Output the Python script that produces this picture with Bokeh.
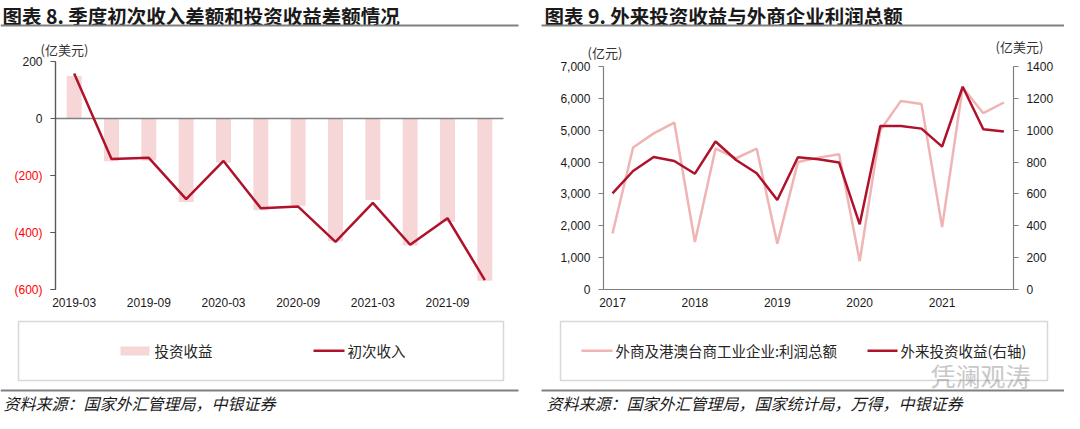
from bokeh.plotting import figure
from bokeh.models import (Range1d, LinearAxis, FixedTicker, NumeralTickFormatter,
                          Label, BoxAnnotation)
from bokeh.layouts import row
from bokeh.embed import file_html
from bokeh.resources import INLINE

# ---------------- data: left chart (亿美元) ----------------
quarters = ["2019-03", "2019-06", "2019-09", "2019-12", "2020-03", "2020-06",
            "2020-09", "2020-12", "2021-03", "2021-06", "2021-09", "2021-12"]
invest_income_diff = [149, -150, -147, -293, -155, -322, -306, -431, -286, -446, -363, -569]
primary_income_diff = [158, -142, -138, -283, -149, -315, -309, -433, -296, -443, -350, -567]
left_ticks = [200, 0, -200, -400, -600]

# ---------------- data: right chart ----------------
periods = ["2017Q1", "2017Q2", "2017Q3", "2017Q4", "2018Q1", "2018Q2", "2018Q3", "2018Q4",
           "2019Q1", "2019Q2", "2019Q3", "2019Q4", "2020Q1", "2020Q2", "2020Q3", "2020Q4",
           "2021Q1", "2021Q2", "2021Q3", "2021Q4"]
profit_total = [1760, 4460, 4900, 5240, 1490, 4420, 4120, 4420, 1440, 4000,
                4140, 4245, 890, 5000, 5920, 5820, 1960, 6340, 5535, 5870]   # 亿元
fdi_income = [604, 744, 832, 807, 727, 929, 813, 730, 562, 830,
              818, 797, 409, 1027, 1027, 1010, 897, 1273, 1006, 992]        # 亿美元
year_labels = ["2017", "2018", "2019", "2020", "2021"]
right_left_ticks = [0, 1000, 2000, 3000, 4000, 5000, 6000, 7000]
right_right_ticks = [0, 200, 400, 600, 800, 1000, 1200, 1400]

RED = "#B0122B"
PINK_BAR = "#F6D6D6"
PINK_LINE = "#F0B4B4"
GRAY = "#808080"
AXIS = "#7f7f7f"
CJK = "Noto Sans CJK SC"
NUM = "Liberation Sans"
W1, W2, H = 537, 527, 413


def span_range(v0, px0, v1, px1, total):
    """Range whose values v0/v1 land at canvas pixels px0/px1, frame = whole canvas."""
    s = (px1 - px0) / (v1 - v0)
    a = v0 - px0 / s
    b = v0 + (total - px0) / s
    return Range1d(min(a, b), max(a, b))


def canvas_label(p, x, y, text, size, color="#1a1a1a", style="normal", align="left",
                 font=CJK, baseline="middle"):
    p.add_layout(Label(x=x, y=y, x_units="canvas", y_units="canvas", text=text,
                       text_font=font, text_font_size=size, text_color=color,
                       text_font_style=style, text_align=align, text_baseline=baseline))


def canvas_box(p, l, r, t, b, fill=None, line=None, lw=1.0):
    p.add_layout(BoxAnnotation(left=l, right=r, top=t, bottom=b,
                               left_units="canvas", right_units="canvas",
                               top_units="canvas", bottom_units="canvas",
                               fill_color=fill, fill_alpha=1.0 if fill else 0,
                               line_color=line, line_width=lw, level="overlay"))


def base_style(p):
    p.outline_line_color = None
    p.xgrid.grid_line_color = None
    p.ygrid.grid_line_color = None
    p.background_fill_color = "white"
    p.border_fill_color = "white"
    p.min_border = 0


def style_axis(ax, line=AXIS, tick=True):
    ax.axis_line_color = line
    ax.axis_line_width = 1.2
    ax.major_tick_line_color = line if tick else None
    ax.major_tick_out = 5 if tick else 0
    ax.major_tick_in = 0
    ax.minor_tick_line_color = None
    ax.major_label_standoff = 8
    ax.major_label_text_font = NUM
    ax.major_label_text_font_size = "12px"
    ax.major_label_text_color = "#1a1a1a"


# ======================= LEFT FIGURE =======================
xs1 = list(range(len(quarters)))
x1r = span_range(-0.5, 55, len(quarters) - 0.5, 503, W1)
y1r = span_range(200, 61, -600, 289, H)
p1 = figure(width=W1, height=H, x_range=x1r, y_range=y1r,
            output_backend="svg", toolbar_location=None, x_axis_location=None, y_axis_location=None)
base_style(p1)
p1.vbar(x=xs1, top=invest_income_diff, width=0.4, fill_color=PINK_BAR, line_color=None)
p1.line([-0.5, len(quarters) - 0.5], [0, 0], line_color=GRAY, line_width=1.5)
p1.line(xs1, primary_income_diff, line_color=RED, line_width=2.5)

xa = LinearAxis(ticker=FixedTicker(ticks=xs1[::2]), fixed_location=-600)
xa.major_label_overrides = {i: quarters[i] for i in xs1[::2]}
style_axis(xa, line=None, tick=False)
p1.add_layout(xa, "below")

ya = LinearAxis(ticker=FixedTicker(ticks=left_ticks), fixed_location=-0.5, bounds=(-600, 200))
ya.major_label_overrides = {v: ("" if v < 0 else str(v)) for v in left_ticks}
style_axis(ya, line="#595959")
p1.add_layout(ya, "left")

neg_ticks = [v for v in left_ticks if v < 0]
ya_neg = LinearAxis(ticker=FixedTicker(ticks=neg_ticks), fixed_location=-0.5, bounds=(-600, 200))
ya_neg.major_label_overrides = {v: f"({abs(v)})" for v in neg_ticks}
style_axis(ya_neg, line="#595959")
ya_neg.major_label_text_color = "#FF0000"
p1.add_layout(ya_neg, "left")

canvas_label(p1, 2, 0, "图表 8. 季度初次收入差额和投资收益差额情况", "19.5px", style="bold",
             baseline="top")
canvas_box(p1, 0, 518, 24, 26, fill=GRAY)
canvas_label(p1, 40, 49, "(亿美元)", "13px", color="#333333")
canvas_box(p1, 18, 503, 321, 380, line=AXIS, lw=1.5)
canvas_box(p1, 120, 149, 346, 355, fill=PINK_BAR)
canvas_label(p1, 154, 350, "投资收益", "14.5px", color="#262626")
canvas_box(p1, 313, 344, 349, 351.5, fill=RED)
canvas_label(p1, 347, 350, "初次收入", "14.5px", color="#262626")
canvas_box(p1, 0, 518, 389, 391, fill=GRAY)
canvas_label(p1, 3, 402, "资料来源：国家外汇管理局，中银证券", "16px", color="#1a1a1a", style="italic")

# ======================= RIGHT FIGURE =======================
xs2 = list(range(len(periods)))
x2r = span_range(0, 75, len(periods) - 1, 466.4, W2)
y2r = span_range(0, 289, 7000, 66, H)
p2 = figure(width=W2, height=H, x_range=x2r, y_range=y2r,
            output_backend="svg", toolbar_location=None, x_axis_location=None, y_axis_location=None)
base_style(p2)
p2.extra_y_ranges = {"usd": span_range(0, 289, 1400, 66, H)}
p2.line(xs2, profit_total, line_color=PINK_LINE, line_width=2.5)
p2.line(xs2, fdi_income, line_color=RED, line_width=2.5, y_range_name="usd")

x_lo, x_hi = -0.44, len(periods) - 0.54
xb = LinearAxis(ticker=FixedTicker(ticks=xs2[::4]), fixed_location=0, bounds=(x_lo, x_hi))
xb.major_label_overrides = {i: year_labels[k] for k, i in enumerate(xs2[::4])}
style_axis(xb, tick=False)
p2.add_layout(xb, "below")

yb = LinearAxis(ticker=FixedTicker(ticks=right_left_ticks), fixed_location=x_lo, bounds=(0, 7000),
                formatter=NumeralTickFormatter(format="0,0"))
style_axis(yb)
p2.add_layout(yb, "left")

ra = LinearAxis(y_range_name="usd", ticker=FixedTicker(ticks=right_right_ticks),
                fixed_location=x_hi, bounds=(0, 1400))
style_axis(ra)
p2.add_layout(ra, "right")

canvas_label(p2, 7, 0, "图表 9. 外来投资收益与外商企业利润总额", "19.5px", style="bold",
             baseline="top")
canvas_box(p2, 4, 527, 24, 26, fill=GRAY)
canvas_label(p2, 50, 52, "(亿元)", "13px", color="#333333")
canvas_label(p2, 458, 46, "(亿美元)", "13px", color="#333333")
canvas_box(p2, 23, 510, 321, 380, line=AXIS, lw=1.5)
canvas_box(p2, 44, 75, 349, 351.5, fill=PINK_LINE)
canvas_label(p2, 78, 350, "外商及港澳台商工业企业:利润总额", "14.5px", color="#262626")
canvas_box(p2, 330, 360, 349, 351.5, fill=RED)
canvas_label(p2, 363, 350, "外来投资收益(右轴)", "14.5px", color="#262626")
canvas_label(p2, 393, 374, "凭澜观涛", "25px", color="#c8c8c8")
canvas_box(p2, 4, 527, 389, 391, fill=GRAY)
canvas_label(p2, 9, 402, "资料来源：国家外汇管理局，国家统计局，万得，中银证券", "16px",
             color="#1a1a1a", style="italic")

layout = row(p1, p2)
open("out.html", "w").write(file_html(layout, INLINE))
